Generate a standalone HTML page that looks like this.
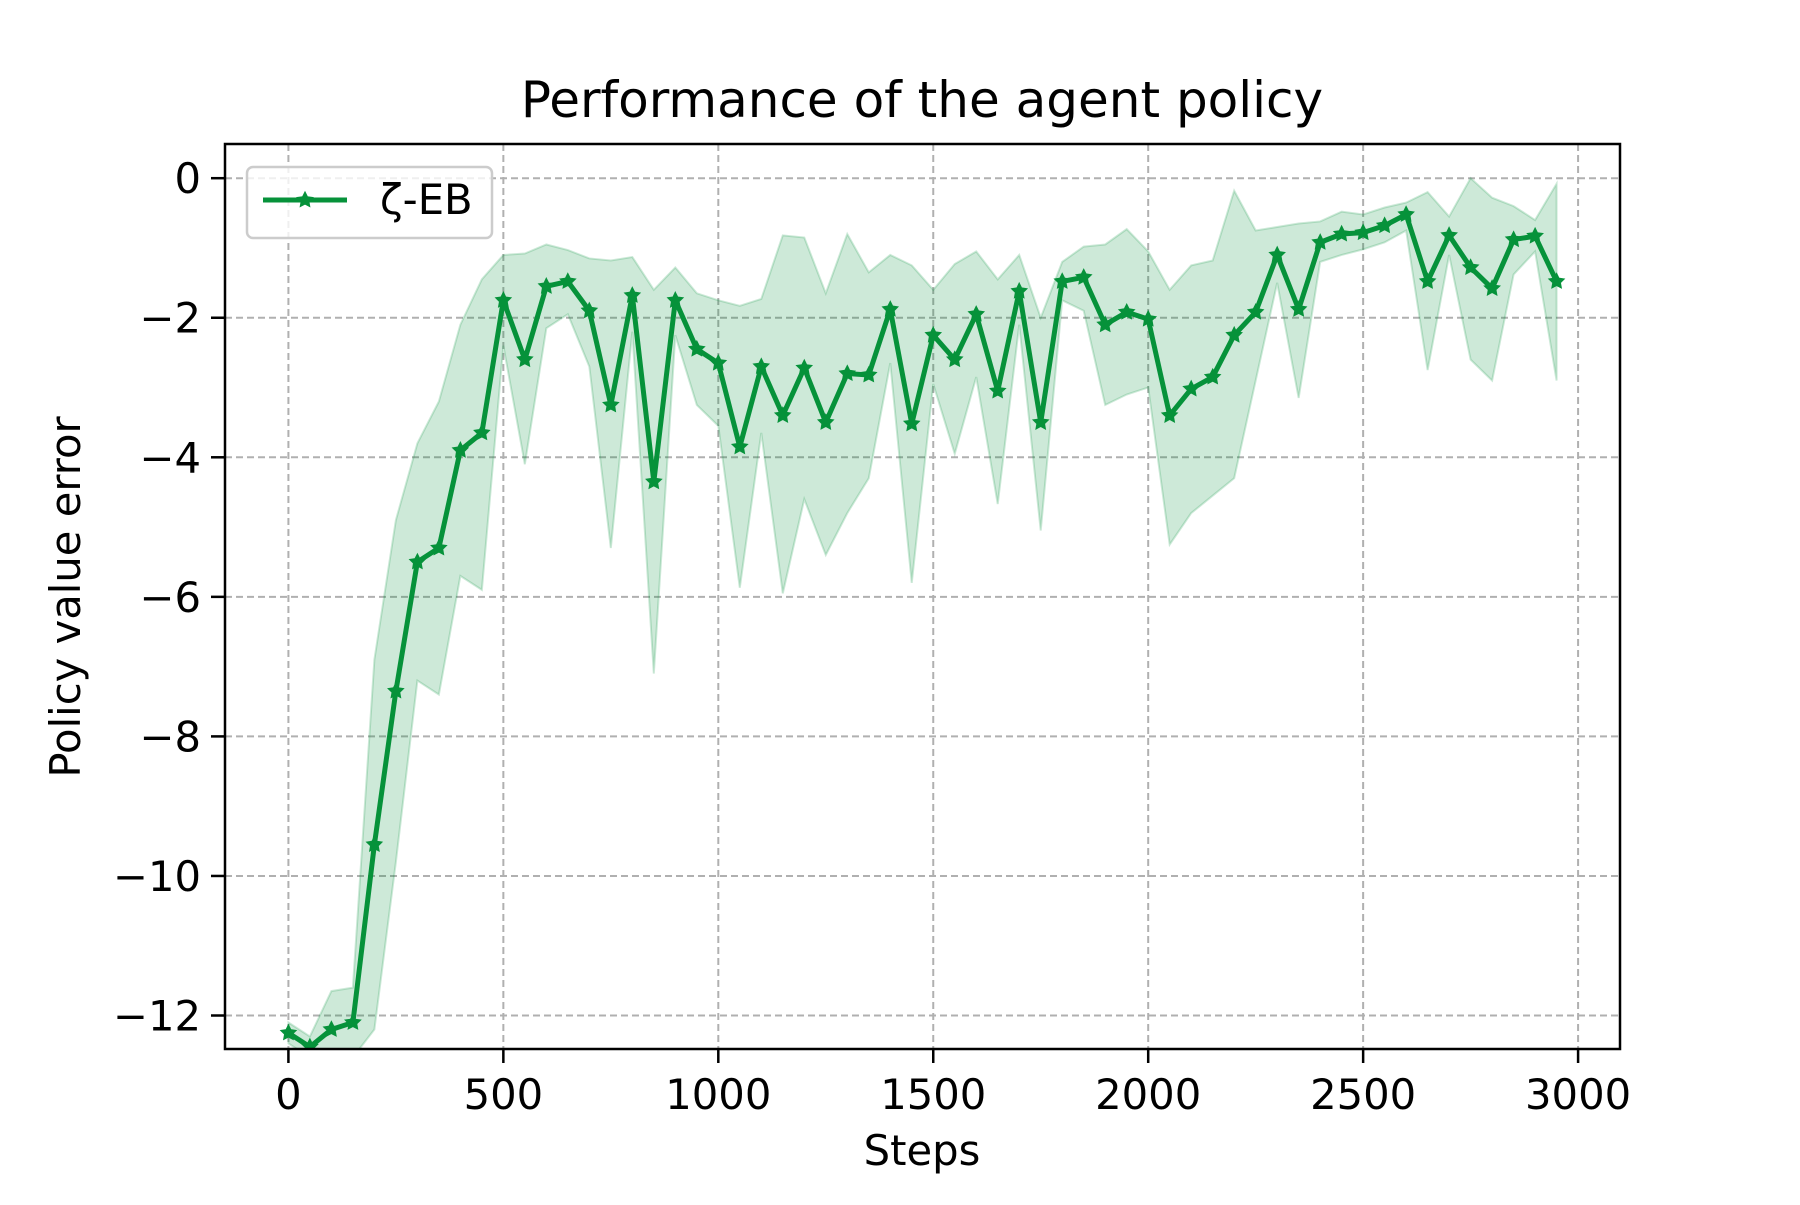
<!DOCTYPE html>
<html><head><meta charset="utf-8"><style>
html,body{margin:0;padding:0;background:#fff;}
svg text{font-family:"DejaVu Sans","Liberation Sans",sans-serif;fill:#000;}
</style></head><body>
<svg id="chart" width="1800" height="1200" viewBox="0 0 1800 1200" xmlns="http://www.w3.org/2000/svg">
<rect width="1800" height="1200" fill="#fff"/>
<defs><clipPath id="clipA"><rect x="225" y="144" width="1395" height="905"/></clipPath></defs>
<g id="grid"></g>
<g id="band" clip-path="url(#clipA)"></g>
<g id="series" clip-path="url(#clipA)"></g>
<rect x="225" y="144" width="1395" height="905" fill="none" stroke="#000" stroke-width="2.5"/>
<g id="ticks"></g>
<text x="922" y="117" font-size="50" text-anchor="middle">Performance of the agent policy</text>
<text x="922" y="1165" font-size="41.7" text-anchor="middle">Steps</text>
<text x="0" y="0" font-size="41.7" text-anchor="middle" transform="translate(80,597) rotate(-90)">Policy value error</text>
<g>
<rect x="247" y="167" width="245" height="71" rx="6" fill="#fff" fill-opacity="0.8" stroke="#ccc" stroke-width="2.5"/>
<line x1="263" y1="200" x2="347" y2="200" stroke="#06923a" stroke-width="5"/>
<g id="legmark"></g>
<text x="380" y="214" font-size="41.7">ζ-EB</text>
</g>
</svg>
<script>
const steps=[0,50,100,150,200,250,300,350,400,450,500,550,600,650,700,750,800,850,900,950,1000,1050,1100,1150,1200,1250,1300,1350,1400,1450,1500,1550,1600,1650,1700,1750,1800,1850,1900,1950,2000,2050,2100,2150,2200,2250,2300,2350,2400,2450,2500,2550,2600,2650,2700,2750,2800,2850,2900,2950];
const meanVals=[-12.25,-12.45,-12.2,-12.1,-9.55,-7.35,-5.5,-5.3,-3.9,-3.65,-1.75,-2.6,-1.55,-1.48,-1.9,-3.25,-1.68,-4.35,-1.75,-2.45,-2.65,-3.85,-2.7,-3.4,-2.72,-3.5,-2.8,-2.82,-1.88,-3.52,-2.25,-2.6,-1.95,-3.05,-1.62,-3.5,-1.48,-1.42,-2.1,-1.92,-2.02,-3.4,-3.02,-2.85,-2.25,-1.92,-1.1,-1.88,-0.92,-0.8,-0.78,-0.68,-0.52,-1.48,-0.82,-1.28,-1.58,-0.88,-0.83,-1.48];
const upperVals=[-12.1,-12.3,-11.65,-11.6,-6.9,-4.9,-3.8,-3.2,-2.1,-1.45,-1.1,-1.08,-0.95,-1.03,-1.15,-1.18,-1.13,-1.6,-1.28,-1.65,-1.75,-1.83,-1.73,-0.82,-0.85,-1.65,-0.8,-1.35,-1.1,-1.25,-1.6,-1.23,-1.05,-1.45,-1.1,-2.0,-1.2,-0.98,-0.95,-0.73,-1.05,-1.6,-1.25,-1.18,-0.18,-0.75,-0.7,-0.65,-0.62,-0.48,-0.52,-0.42,-0.35,-0.2,-0.55,0.0,-0.28,-0.4,-0.6,-0.08];
const lowerVals=[-12.4,-12.6,-12.6,-12.6,-12.2,-9.8,-7.2,-7.4,-5.7,-5.9,-2.4,-4.1,-2.15,-1.95,-2.7,-5.3,-2.2,-7.1,-2.25,-3.25,-3.55,-5.87,-3.65,-5.95,-4.6,-5.4,-4.8,-4.3,-2.65,-5.8,-2.95,-3.95,-2.85,-4.67,-2.1,-5.05,-1.75,-1.9,-3.25,-3.1,-3.0,-5.25,-4.8,-4.55,-4.3,-2.9,-1.5,-3.15,-1.2,-1.1,-1.02,-0.92,-0.75,-2.75,-1.1,-2.6,-2.9,-1.38,-1.05,-2.9];
const xTicks=[0,500,1000,1500,2000,2500,3000];
const yTicks=[0,-2,-4,-6,-8,-10,-12];
const xTickLabels=["0","500","1000","1500","2000","2500","3000"];
const yTickLabels=["0","\u22122","\u22124","\u22126","\u22128","\u221210","\u221212"];

const AX={l:225,r:1620,t:144,b:1049};
const XMIN=-147.5,XMAX=3097.5,YMIN=-12.48,YMAX=0.49;
function sx(v){return AX.l+(v-XMIN)/(XMAX-XMIN)*(AX.r-AX.l);}
function sy(v){return AX.b-(v-YMIN)/(YMAX-YMIN)*(AX.b-AX.t);}
const NS="http://www.w3.org/2000/svg";
function mk(tag,attrs,parent){const e=document.createElementNS(NS,tag);for(const k in attrs)e.setAttribute(k,attrs[k]);parent.appendChild(e);return e;}
const grid=document.getElementById('grid'),ticks=document.getElementById('ticks');
xTicks.forEach((t,i)=>{
  const x=sx(t);
  const g=mk('line',{x1:x,x2:x,y1:AX.t,y2:AX.b,stroke:'#b0b0b0','stroke-width':2,'stroke-dasharray':'7,4'},grid);
  
  
  const tk=mk('line',{x1:x,x2:x,y1:AX.b,y2:AX.b+14,stroke:'#000','stroke-width':2.5},ticks);
  
  
  const tx=mk('text',{x:x,y:AX.b+60,'font-size':41.7,'text-anchor':'middle'},ticks);
  tx.textContent=xTickLabels[i];
  
  
});
yTicks.forEach((t,i)=>{
  const y=sy(t);
  const g=mk('line',{x1:AX.l,x2:AX.r,y1:y,y2:y,stroke:'#b0b0b0','stroke-width':2,'stroke-dasharray':'7,4'},grid);
  
  
  const tk=mk('line',{x1:AX.l-14,x2:AX.l,y1:y,y2:y,stroke:'#000','stroke-width':2.5},ticks);
  
  
  const tx=mk('text',{x:AX.l-24,y:y+15,'font-size':41.7,'text-anchor':'end'},ticks);
  tx.textContent=yTickLabels[i];
  
  
});
let d='';
steps.forEach((s,i)=>{d+=(i?'L':'M')+sx(s)+','+sy(upperVals[i]);});
for(let i=steps.length-1;i>=0;i--)d+='L'+sx(steps[i])+','+sy(lowerVals[i]);
d+='Z';
const band=mk('path',{d:d,fill:'#06923a','fill-opacity':0.2,stroke:'#06923a','stroke-opacity':0.2,'stroke-width':2},document.getElementById('band'));


const ser=document.getElementById('series');
const pts=steps.map((s,i)=>sx(s)+','+sy(meanVals[i])).join(' ');
const line=mk('polyline',{points:pts,fill:'none',stroke:'#06923a','stroke-width':5,'stroke-linejoin':'round'},ser);


function star(cx,cy,r){let p='';for(let k=0;k<10;k++){const a=-Math.PI/2+k*Math.PI/5;const rr=k%2?r*0.5:r;p+=(k?'L':'M')+(cx+rr*Math.cos(a)).toFixed(1)+','+(cy+rr*Math.sin(a)).toFixed(1);}return p+'Z';}
steps.forEach((s,i)=>{
  const m=mk('path',{d:star(sx(s),sy(meanVals[i]),7),fill:'#06923a',stroke:'#06923a','stroke-width':2},ser);
  
  
});
const lm=mk('path',{d:star(305,200,7),fill:'#06923a',stroke:'#06923a','stroke-width':2},document.getElementById('legmark'));


</script>
</body></html>
